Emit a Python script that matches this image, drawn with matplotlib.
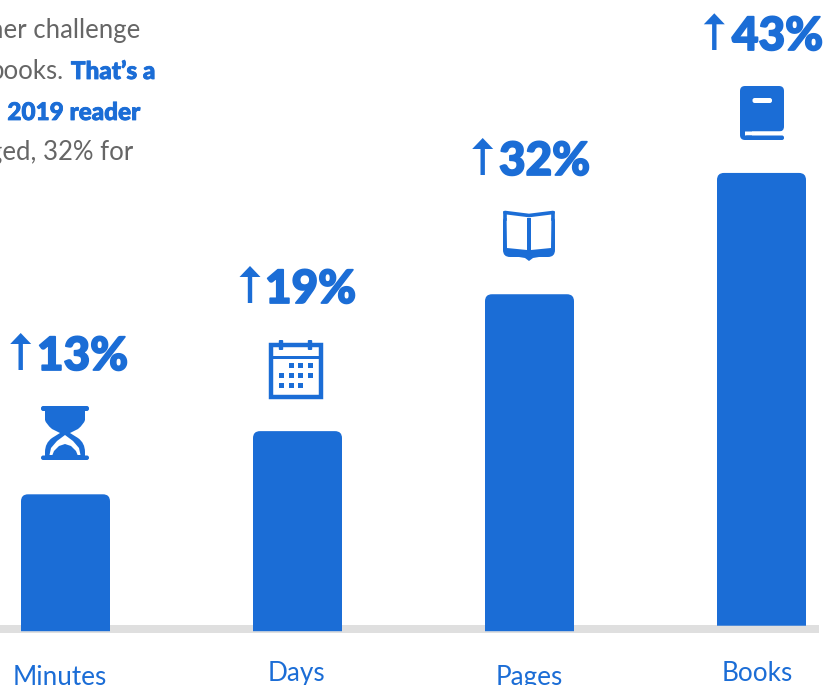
import matplotlib
matplotlib.use("Agg")
import matplotlib.pyplot as plt
import matplotlib.patheffects as pe
from matplotlib.patches import PathPatch, Rectangle, FancyBboxPatch, Polygon
from matplotlib.path import Path

# Reading-challenge growth, 2019 readers
categories = ["Minutes", "Days", "Pages", "Books"]
growth_pct = [13, 19, 32, 43]
bar_floor = [0, 0, 0, 0.52]

BLUE = "#1b6dd6"
GRAY = "#666666"
W, H = 827, 685
PX_PER_PCT = 10.53
ZERO_PX = 631.2

fig = plt.figure(figsize=(W / 100, H / 100), dpi=100, facecolor="white")

# Data axes: one category step is 232 px
ax = fig.add_axes([0, 0, 1, 1])
ax.set_xlim(-65.5 / 232, (W - 65.5) / 232)
ax.set_ylim(-(H - ZERO_PX) / PX_PER_PCT, ZERO_PX / PX_PER_PCT)
ax.axis("off")

# Overlay in pixel units for text, icons and arrows
ov = fig.add_axes([0, 0, 1, 1], zorder=3)
ov.set_xlim(0, W)
ov.set_ylim(H, 0)
ov.axis("off")
ov.patch.set_alpha(0)

# Floor line sits behind the bars
ax.add_patch(Rectangle((-65.5 / 232, -1.8 / PX_PER_PCT), 819 / 232, 8 / PX_PER_PCT,
                       fc="#dfdfdf", ec="none", zorder=0))


def rounded_top_bar(x, bottom, top, width=89 / 232, r_px=7):
    rx, ry = r_px / 232, r_px / PX_PER_PCT
    l, r = x - width / 2, x + width / 2
    verts = [(l, bottom), (l, top - ry), (l, top), (l + rx, top), (r - rx, top),
             (r, top), (r, top - ry), (r, bottom), (l, bottom)]
    codes = [Path.MOVETO, Path.LINETO, Path.CURVE3, Path.CURVE3, Path.LINETO,
             Path.CURVE3, Path.CURVE3, Path.LINETO, Path.CLOSEPOLY]
    ax.add_patch(PathPatch(Path(verts, codes), fc=BLUE, ec="none", zorder=2))


for i, (v, b) in enumerate(zip(growth_pct, bar_floor)):
    rounded_top_bar(i, b, b + v)

# Category names
label_pos = [(60, 685), (296, 681), (529, 685), (757, 681)]
for name, (x, y) in zip(categories, label_pos):
    ov.text(x, y, name, color=BLUE, fontsize=18.8, family="Lato", ha="center", va="baseline")


def up_arrow(tip_x, tip_y, bottom):
    ov.add_patch(Polygon([(tip_x, tip_y), (tip_x + 10.5, tip_y + 11), (tip_x + 2.2, tip_y + 11),
                          (tip_x + 2.2, bottom), (tip_x - 2.2, bottom), (tip_x - 2.2, tip_y + 11),
                          (tip_x - 10.5, tip_y + 11)], fc=BLUE, ec="none"))


heavy = [pe.withStroke(linewidth=1.3, foreground=BLUE)]
heavy_small = [pe.withStroke(linewidth=0.6, foreground=BLUE)]

# Growth figures with their arrows
pct_pos = [(37, 370), (265, 303), (499, 175), (732, 50)]
arrow_pos = [(20.7, 333, 370), (250, 266, 303), (482.7, 138, 175), (714.3, 13.3, 50)]
for v, (x, y), a in zip(growth_pct, pct_pos, arrow_pos):
    up_arrow(*a)
    ov.text(x, y, f"{v}%", color=BLUE, fontsize=33, family="Lato", weight="black",
            ha="left", va="baseline", path_effects=heavy)


def rrect(x0, y0, x1, y1, r, fc=BLUE):
    ov.add_patch(FancyBboxPatch((x0 + r, y0 + r), x1 - x0 - 2 * r, y1 - y0 - 2 * r,
                                boxstyle=f"round,pad={r},rounding_size={r}",
                                fc=fc, ec="none", lw=0))


def hourglass():
    rrect(41, 406, 89, 411, 2.2)
    rrect(41, 455.5, 89, 460, 2.2)
    M, L, C = Path.MOVETO, Path.LINETO, Path.CURVE3
    verts = [(45, 410), (85, 410), (85, 420), (84, 424), (78, 429), (70, 433), (78, 438), (85, 443),
             (85, 452), (85, 457), (45, 457), (45, 452), (45, 443), (52, 438), (60, 433),
             (52, 429), (46, 424), (45, 420), (45, 410)]
    codes = [M, L, L, C, C, L, L, C, C, L, L, L, C, C, L, L, C, C, L]
    ov.add_patch(PathPatch(Path(verts, codes), fc=BLUE, ec="none"))
    # Hollow lower bulb with its mound of sand
    ov.add_patch(Polygon([(65, 435), (73, 441), (79, 448), (80.5, 455), (49.5, 455), (51, 448),
                          (57, 441)], fc="white", ec="none"))
    ov.add_patch(Polygon([(65, 444), (71, 446), (76, 451), (78, 456), (52, 456), (54, 451),
                          (59, 446)], fc=BLUE, ec="none"))


def calendar():
    ov.add_patch(Rectangle((271, 344.5), 50, 52, fc="white", ec=BLUE, lw=3.2))
    ov.add_patch(Rectangle((270, 356), 52, 3, fc=BLUE, ec="none"))
    for x in (281, 310):
        rrect(x - 2.2, 340, x + 2.2, 350, 1)
    rows = {365.5: (291, 300.7, 310.3),
            375.5: (281.7, 291, 300.7, 310.3),
            385.5: (281.7, 291, 300.7)}
    for y, xs in rows.items():
        for x in xs:
            ov.add_patch(Rectangle((x - 2.5, y - 2.5), 5, 5, fc=BLUE, ec="none"))


def open_book():
    M, L, C = Path.MOVETO, Path.LINETO, Path.CURVE3
    verts = [(505, 218), (503, 218), (503, 221), (503, 250), (503, 257), (510, 257), (519, 257), (525, 258),
             (529, 261), (533, 258), (539, 257), (548, 257), (555, 257), (555, 250), (555, 221),
             (555, 218), (553, 218), (505, 218)]
    codes = [M, C, C, L, C, C, L, L, L, L, L, L, C, C, L, C, C, L]
    ov.add_patch(PathPatch(Path(verts, codes), fc=BLUE, ec="none"))
    ov.add_patch(Polygon([(506.5, 213), (527, 216), (527, 250), (507, 248)], fc="white", ec="none"))
    ov.add_patch(Polygon([(531, 216), (551.5, 213), (551, 248), (531, 250)], fc="white", ec="none"))
    # Top edge of the pages
    ov.plot([505, 529, 553], [212.5, 215.5, 212.5], color=BLUE, lw=2.6, solid_capstyle="round")
    ov.plot([505, 505], [213, 219], color=BLUE, lw=2.6)
    ov.plot([553, 553], [213, 219], color=BLUE, lw=2.6)


def closed_book():
    rrect(740, 86, 784, 131.5, 5)
    rrect(740, 120, 752, 140, 5)
    rrect(745, 131.5, 790, 135.5, 0.3, fc="white")
    rrect(745, 135.5, 784, 140, 2)
    rrect(752.5, 98, 772, 103, 2.2, fc="white")


hourglass()
calendar()
open_book()
closed_book()

# Fragments of the running paragraph at the left edge
body = dict(color=GRAY, fontsize=18.5, family="Lato", ha="right")
bold = dict(color=BLUE, fontsize=17.5, family="Lato", weight="black", ha="right", path_effects=heavy_small)
ov.text(140, 38, "her challenge", **body)
ov.text(63, 79, "books.", **body)
ov.text(155, 79, "That\u2019s a", **bold)
ov.text(140, 120, "2019 reader", **bold)
ov.text(133, 160, "ged, 32% for", **body)

fig.savefig("out.png", dpi=100, facecolor="white")
